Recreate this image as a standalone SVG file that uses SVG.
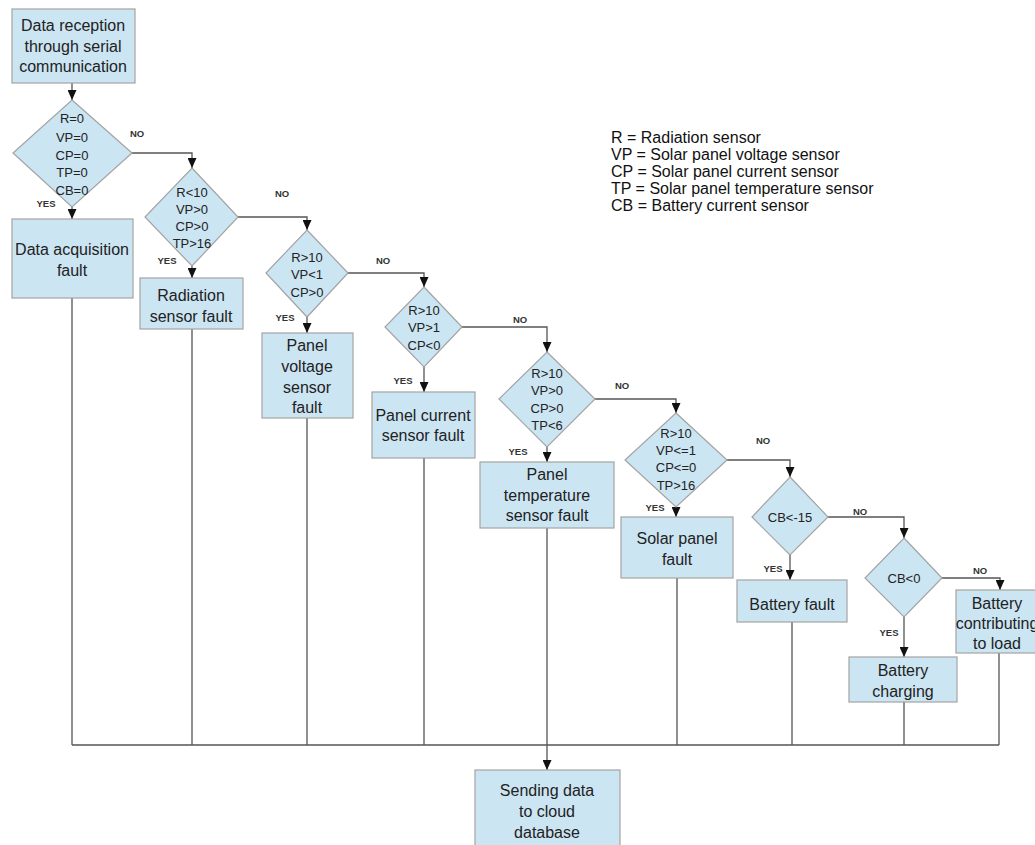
<svg xmlns="http://www.w3.org/2000/svg" width="1035" height="845" viewBox="0 0 1035 845">
<defs>
<marker id="ah" markerUnits="userSpaceOnUse" markerWidth="10" markerHeight="9" refX="10" refY="4.5" orient="auto">
<path d="M0,0 L10,4.5 L0,9 z" fill="#111"/>
</marker>
<style>
.bx{fill:#cce5f3;stroke:#a3a3a3;stroke-width:1.2}
.dm{fill:#cce5f3;stroke:#a3a3a3;stroke-width:1.2}
.t{font-family:"Liberation Sans",Arial,sans-serif;font-size:16px;fill:#222;text-anchor:middle}
.d{font-family:"Liberation Sans",Arial,sans-serif;font-size:13px;fill:#222;text-anchor:middle}
.l{font-family:"Liberation Sans",Arial,sans-serif;font-size:9.5px;font-weight:bold;fill:#333;text-anchor:middle}
.lg{font-family:"Liberation Sans",Arial,sans-serif;font-size:16px;fill:#111}
.c{fill:none;stroke:#555;stroke-width:1.3}
.a{fill:none;stroke:#555;stroke-width:1.3;marker-end:url(#ah)}
</style>
</defs>
<rect width="1035" height="845" fill="#fff"/>
<g id="connectors">
<path class="a" d="M72,83 V100"/>
<path class="a" d="M132,153 H192 V168"/>
<path class="a" d="M72,207 V219"/>
<path class="a" d="M238,217 H307 V230"/>
<path class="a" d="M192,266 V278"/>
<path class="a" d="M348,273 H424 V287"/>
<path class="a" d="M307,317 V333"/>
<path class="a" d="M462,327 H547 V352"/>
<path class="a" d="M424,367 V392"/>
<path class="a" d="M595,399 H676 V413"/>
<path class="a" d="M547,447 V462"/>
<path class="a" d="M727,460 H790 V477"/>
<path class="a" d="M676,507 V517"/>
<path class="a" d="M828,517 H904 V538"/>
<path class="a" d="M790,555 V580"/>
<path class="a" d="M942,578 H1000 V590"/>
<path class="a" d="M904,617 V657"/>
<path class="c" d="M72,298 V745 M192,329 V745 M307,418 V745 M424,458 V745 M547,528 V745 M677,578 V745 M792,622 V745 M904,702 V745 M999,653 V745 M72,745 H999"/>
<path class="a" d="M547,745 V770"/>
<text class="l" x="137" y="137">NO</text>
<text class="l" x="282" y="197">NO</text>
<text class="l" x="383" y="264">NO</text>
<text class="l" x="520" y="323">NO</text>
<text class="l" x="622" y="389">NO</text>
<text class="l" x="763" y="444">NO</text>
<text class="l" x="860" y="515">NO</text>
<text class="l" x="980" y="574">NO</text>
<text class="l" x="46" y="207">YES</text>
<text class="l" x="167" y="264">YES</text>
<text class="l" x="285" y="321">YES</text>
<text class="l" x="403" y="384">YES</text>
<text class="l" x="518" y="455">YES</text>
<text class="l" x="655" y="511">YES</text>
<text class="l" x="773" y="572">YES</text>
<text class="l" x="889" y="636">YES</text>
</g>
<g id="n-start">
<rect class="bx" x="12" y="9" width="123" height="74"/>
<text class="t" x="73" y="31">Data reception</text>
<text class="t" x="73" y="52">through serial</text>
<text class="t" x="73" y="72">communication</text>
</g>
<g id="d1">
<polygon class="dm" points="72,100 132,153 72,207 13,153"/>
<text class="d" x="72" y="122.6">R=0</text>
<text class="d" x="72" y="141.6">VP=0</text>
<text class="d" x="72" y="159.6">CP=0</text>
<text class="d" x="72" y="176.6">TP=0</text>
<text class="d" x="72" y="194.6">CB=0</text>
</g>
<g id="n-acq">
<rect class="bx" x="12" y="219" width="121" height="79"/>
<text class="t" x="72" y="255">Data acquisition</text>
<text class="t" x="72" y="276">fault</text>
</g>
<g id="d2">
<polygon class="dm" points="192,168 238,217 192,266 145,217"/>
<text class="d" x="192" y="196.6">R&lt;10</text>
<text class="d" x="192" y="213.6">VP&gt;0</text>
<text class="d" x="192" y="230.6">CP&gt;0</text>
<text class="d" x="192" y="247.6">TP&gt;16</text>
</g>
<g id="n-rad">
<rect class="bx" x="140" y="278" width="103" height="51"/>
<text class="t" x="191" y="301">Radiation</text>
<text class="t" x="191" y="322">sensor fault</text>
</g>
<g id="d3">
<polygon class="dm" points="307,230 348,273 307,317 266,273"/>
<text class="d" x="307" y="261.6">R&gt;10</text>
<text class="d" x="307" y="278.6">VP&lt;1</text>
<text class="d" x="307" y="296.6">CP&gt;0</text>
</g>
<g id="n-pv">
<rect class="bx" x="262" y="333" width="91" height="85"/>
<text class="t" x="307" y="351">Panel</text>
<text class="t" x="307" y="372">voltage</text>
<text class="t" x="307" y="393">sensor</text>
<text class="t" x="307" y="413">fault</text>
</g>
<g id="d4">
<polygon class="dm" points="424,287 462,327 424,367 385,327"/>
<text class="d" x="424" y="314.6">R&gt;10</text>
<text class="d" x="424" y="331.6">VP&gt;1</text>
<text class="d" x="424" y="349.6">CP&lt;0</text>
</g>
<g id="n-pc">
<rect class="bx" x="372" y="392" width="103" height="66"/>
<text class="t" x="423" y="421">Panel current</text>
<text class="t" x="423" y="441">sensor fault</text>
</g>
<g id="d5">
<polygon class="dm" points="547,352 595,399 547,447 499,399"/>
<text class="d" x="547" y="377.6">R&gt;10</text>
<text class="d" x="547" y="394.6">VP&gt;0</text>
<text class="d" x="547" y="412.6">CP&gt;0</text>
<text class="d" x="547" y="429.6">TP&lt;6</text>
</g>
<g id="n-pt">
<rect class="bx" x="480" y="462" width="134" height="66"/>
<text class="t" x="547" y="480">Panel</text>
<text class="t" x="547" y="501">temperature</text>
<text class="t" x="547" y="521">sensor fault</text>
</g>
<g id="d6">
<polygon class="dm" points="676,413 727,460 676,507 625,460"/>
<text class="d" x="676" y="437.6">R&gt;10</text>
<text class="d" x="676" y="454.6">VP&lt;=1</text>
<text class="d" x="676" y="471.6">CP&lt;=0</text>
<text class="d" x="676" y="489.6">TP&gt;16</text>
</g>
<g id="n-sp">
<rect class="bx" x="621" y="517" width="112" height="61"/>
<text class="t" x="677" y="544">Solar panel</text>
<text class="t" x="677" y="565">fault</text>
</g>
<g id="d7">
<polygon class="dm" points="790,477 828,517 790,555 752,517"/>
<text class="d" x="790" y="521.6">CB&lt;-15</text>
</g>
<g id="n-bf">
<rect class="bx" x="737" y="580" width="110" height="42"/>
<text class="t" x="792" y="610">Battery fault</text>
</g>
<g id="d8">
<polygon class="dm" points="904,538 942,578 904,617 865,578"/>
<text class="d" x="904" y="582.6">CB&lt;0</text>
</g>
<g id="n-bc">
<rect class="bx" x="849" y="657" width="108" height="45"/>
<text class="t" x="903" y="676">Battery</text>
<text class="t" x="903" y="697">charging</text>
</g>
<g id="n-bl">
<rect class="bx" x="956" y="590" width="95" height="63"/>
<text class="t" x="997" y="609">Battery</text>
<text class="t" x="997" y="629">contributing</text>
<text class="t" x="997" y="649">to load</text>
</g>
<g id="n-cloud">
<rect class="bx" x="475" y="770" width="145" height="80"/>
<text class="t" x="547" y="796">Sending data</text>
<text class="t" x="547" y="817">to cloud</text>
<text class="t" x="547" y="838">database</text>
</g>
<g id="legend">
<text class="lg" x="611" y="143">R = Radiation sensor</text>
<text class="lg" x="611" y="160">VP = Solar panel voltage sensor</text>
<text class="lg" x="611" y="177">CP = Solar panel current sensor</text>
<text class="lg" x="611" y="194">TP = Solar panel temperature sensor</text>
<text class="lg" x="611" y="211">CB = Battery current sensor</text>
</g>
</svg>
